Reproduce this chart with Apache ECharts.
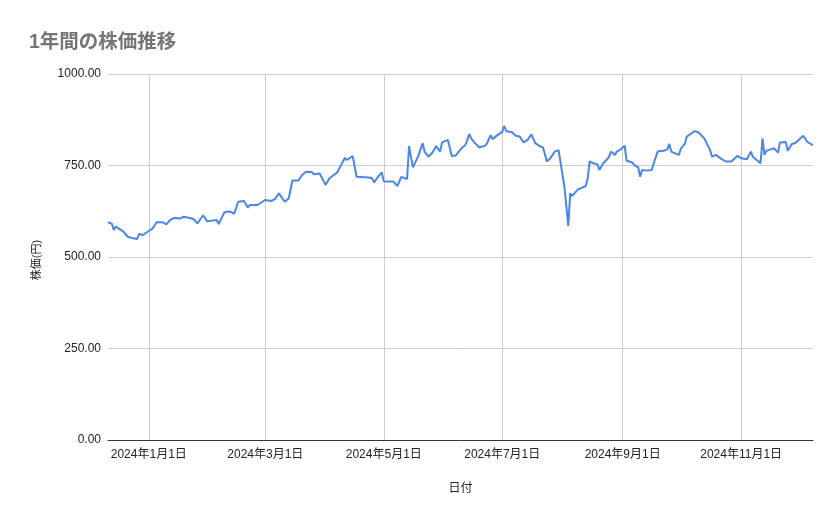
<!DOCTYPE html>
<html>
<head>
<meta charset="utf-8">
<script src="https://cdn.jsdelivr.net/npm/echarts@6/dist/echarts.min.js"></script>
<style>
html,body{margin:0;padding:0;background:#fff;}
#chart{width:839px;height:519px;}
</style>
</head>
<body>
<div id="chart"></div>
<script>
const titleText = '1年間の株価推移';
const yAxisName = '株価(円)';
const xAxisName = '日付';
const yTicks = [0, 250, 500, 750, 1000];

const dates = [
'2023-12-11','2023-12-13','2023-12-14','2023-12-15','2023-12-17','2023-12-19','2023-12-20','2023-12-21','2023-12-24','2023-12-26','2023-12-27','2023-12-29',
'2024-01-01','2024-01-03','2024-01-05','2024-01-08','2024-01-10','2024-01-12','2024-01-14','2024-01-17','2024-01-19','2024-01-21','2024-01-24','2024-01-26','2024-01-29','2024-01-31',
'2024-02-02','2024-02-05','2024-02-06','2024-02-07','2024-02-09','2024-02-12','2024-02-14','2024-02-16','2024-02-19','2024-02-21','2024-02-22','2024-02-26','2024-02-28','2024-02-29',
'2024-03-01','2024-03-04','2024-03-06','2024-03-08','2024-03-11','2024-03-13','2024-03-15','2024-03-18','2024-03-20','2024-03-22','2024-03-25','2024-03-26','2024-03-29',
'2024-04-01','2024-04-03','2024-04-07','2024-04-09','2024-04-11','2024-04-12','2024-04-15','2024-04-17','2024-04-23','2024-04-25','2024-04-26','2024-04-28','2024-04-30',
'2024-05-01','2024-05-06','2024-05-08','2024-05-10','2024-05-13','2024-05-14','2024-05-16','2024-05-17','2024-05-19','2024-05-21','2024-05-22','2024-05-24','2024-05-26','2024-05-28','2024-05-30','2024-05-31',
'2024-06-03','2024-06-05','2024-06-06','2024-06-07','2024-06-10','2024-06-12','2024-06-13','2024-06-14','2024-06-15','2024-06-17','2024-06-19','2024-06-22','2024-06-23','2024-06-25','2024-06-26','2024-06-29',
'2024-07-01','2024-07-02','2024-07-03','2024-07-04','2024-07-06','2024-07-08','2024-07-10','2024-07-12','2024-07-14','2024-07-16','2024-07-18','2024-07-20','2024-07-22','2024-07-24','2024-07-26','2024-07-28','2024-07-29','2024-07-30',
'2024-08-02','2024-08-04','2024-08-05','2024-08-06','2024-08-09','2024-08-11','2024-08-13','2024-08-14','2024-08-15','2024-08-17','2024-08-19','2024-08-20','2024-08-22','2024-08-24','2024-08-25','2024-08-26','2024-08-28','2024-08-29','2024-08-31',
'2024-09-01','2024-09-02','2024-09-03','2024-09-06','2024-09-07','2024-09-09','2024-09-10','2024-09-11','2024-09-13','2024-09-16','2024-09-17','2024-09-19','2024-09-22','2024-09-24','2024-09-25','2024-09-26','2024-09-28','2024-09-30',
'2024-10-01','2024-10-03','2024-10-04','2024-10-06','2024-10-07','2024-10-08','2024-10-10','2024-10-11','2024-10-13','2024-10-15','2024-10-16','2024-10-17','2024-10-19','2024-10-21','2024-10-22','2024-10-24','2024-10-25','2024-10-27','2024-10-30',
'2024-11-01','2024-11-04','2024-11-06','2024-11-07','2024-11-09','2024-11-11','2024-11-12','2024-11-13','2024-11-14','2024-11-16','2024-11-18','2024-11-20','2024-11-21','2024-11-24','2024-11-25','2024-11-27','2024-11-29',
'2024-12-01','2024-12-03','2024-12-05','2024-12-07','2024-12-08'
];

const prices = [
595,591,574,583,576,569,567,556,551,549,563,560,
571,578,595,595,589,601,607,605,610,608,604,592,614,598,
599,601,590,592,623,624,618,651,653,635,642,642,649,647,
656,653,658,674,651,660,709,709,724,733,732,726,728,
697,715,731,751,771,765,776,719,717,715,704,719,731,
706,706,694,719,713,803,745,750,779,811,788,774,785,803,788,813,
820,776,781,777,797,806,820,836,824,811,800,803,809,833,822,835,
842,858,844,849,841,831,829,813,820,835,811,804,799,761,771,788,785,792,
692,585,674,667,685,689,694,715,761,756,753,738,756,767,774,788,779,788,794,
797,804,763,758,751,745,719,738,736,738,756,788,790,794,809,788,783,779,
797,809,829,836,838,844,841,842,824,803,792,774,779,771,774,761,761,761,776,
770,767,788,774,765,756,824,779,790,794,797,785,813,814,790,808,812,
822,831,815,808,806
];

function toTs(s){ const p = s.split('-').map(Number); return new Date(p[0], p[1]-1, p[2]).getTime(); }
const seriesData = dates.map((d, i) => [toTs(d), prices[i]]);

const FONT = 'Arial, "Liberation Sans", "Noto Sans CJK JP", sans-serif';
const chart = echarts.init(document.getElementById('chart'), null, {renderer: 'canvas'});
chart.setOption({
  animation: false,
  backgroundColor: '#ffffff',
  textStyle: {fontFamily: FONT},
  title: {
    text: titleText,
    left: 24, top: 28,
    textStyle: {fontSize: 19.5, fontWeight: 'bold', color: '#757575', fontFamily: FONT}
  },
  grid: {left: 108, right: 26, top: 74, bottom: 79, containLabel: false},
  xAxis: {
    type: 'time',
    min: toTs(dates[0]),
    max: toTs(dates[dates.length - 1]),
    splitNumber: 5,
    name: xAxisName,
    nameLocation: 'middle',
    nameGap: 43,
    nameTextStyle: {fontSize: 12, color: '#222222'},
    axisLine: {show: true, lineStyle: {color: '#333333', width: 1}},
    axisTick: {show: false},
    axisLabel: {
      fontSize: 12, color: '#222222', margin: 9,
      showMinLabel: false, showMaxLabel: false, hideOverlap: false,
      formatter: function (v) {
        const d = new Date(v);
        return d.getFullYear() + '年' + (d.getMonth() + 1) + '月' + d.getDate() + '日';
      }
    },
    splitLine: {show: true, showMinLine: false, showMaxLine: false, lineStyle: {color: '#cccccc', width: 1}}
  },
  yAxis: {
    type: 'value',
    min: yTicks[0], max: yTicks[yTicks.length - 1], interval: 250,
    name: yAxisName,
    nameLocation: 'middle',
    nameRotate: 90,
    nameGap: 66,
    nameTextStyle: {fontSize: 11, color: '#222222', padding: [0, 6, 0, 0]},
    axisLine: {show: false},
    axisTick: {show: false},
    axisLabel: {fontSize: 12, color: '#222222', margin: 7, formatter: v => v.toFixed(2)},
    splitLine: {show: true, lineStyle: {color: '#cccccc', width: 1}}
  },
  series: [{
    type: 'line',
    data: seriesData,
    showSymbol: false,
    symbol: 'none',
    lineStyle: {color: '#4a86e8', width: 2},
    itemStyle: {color: '#4a86e8'}
  }]
});
</script>
</body>
</html>
